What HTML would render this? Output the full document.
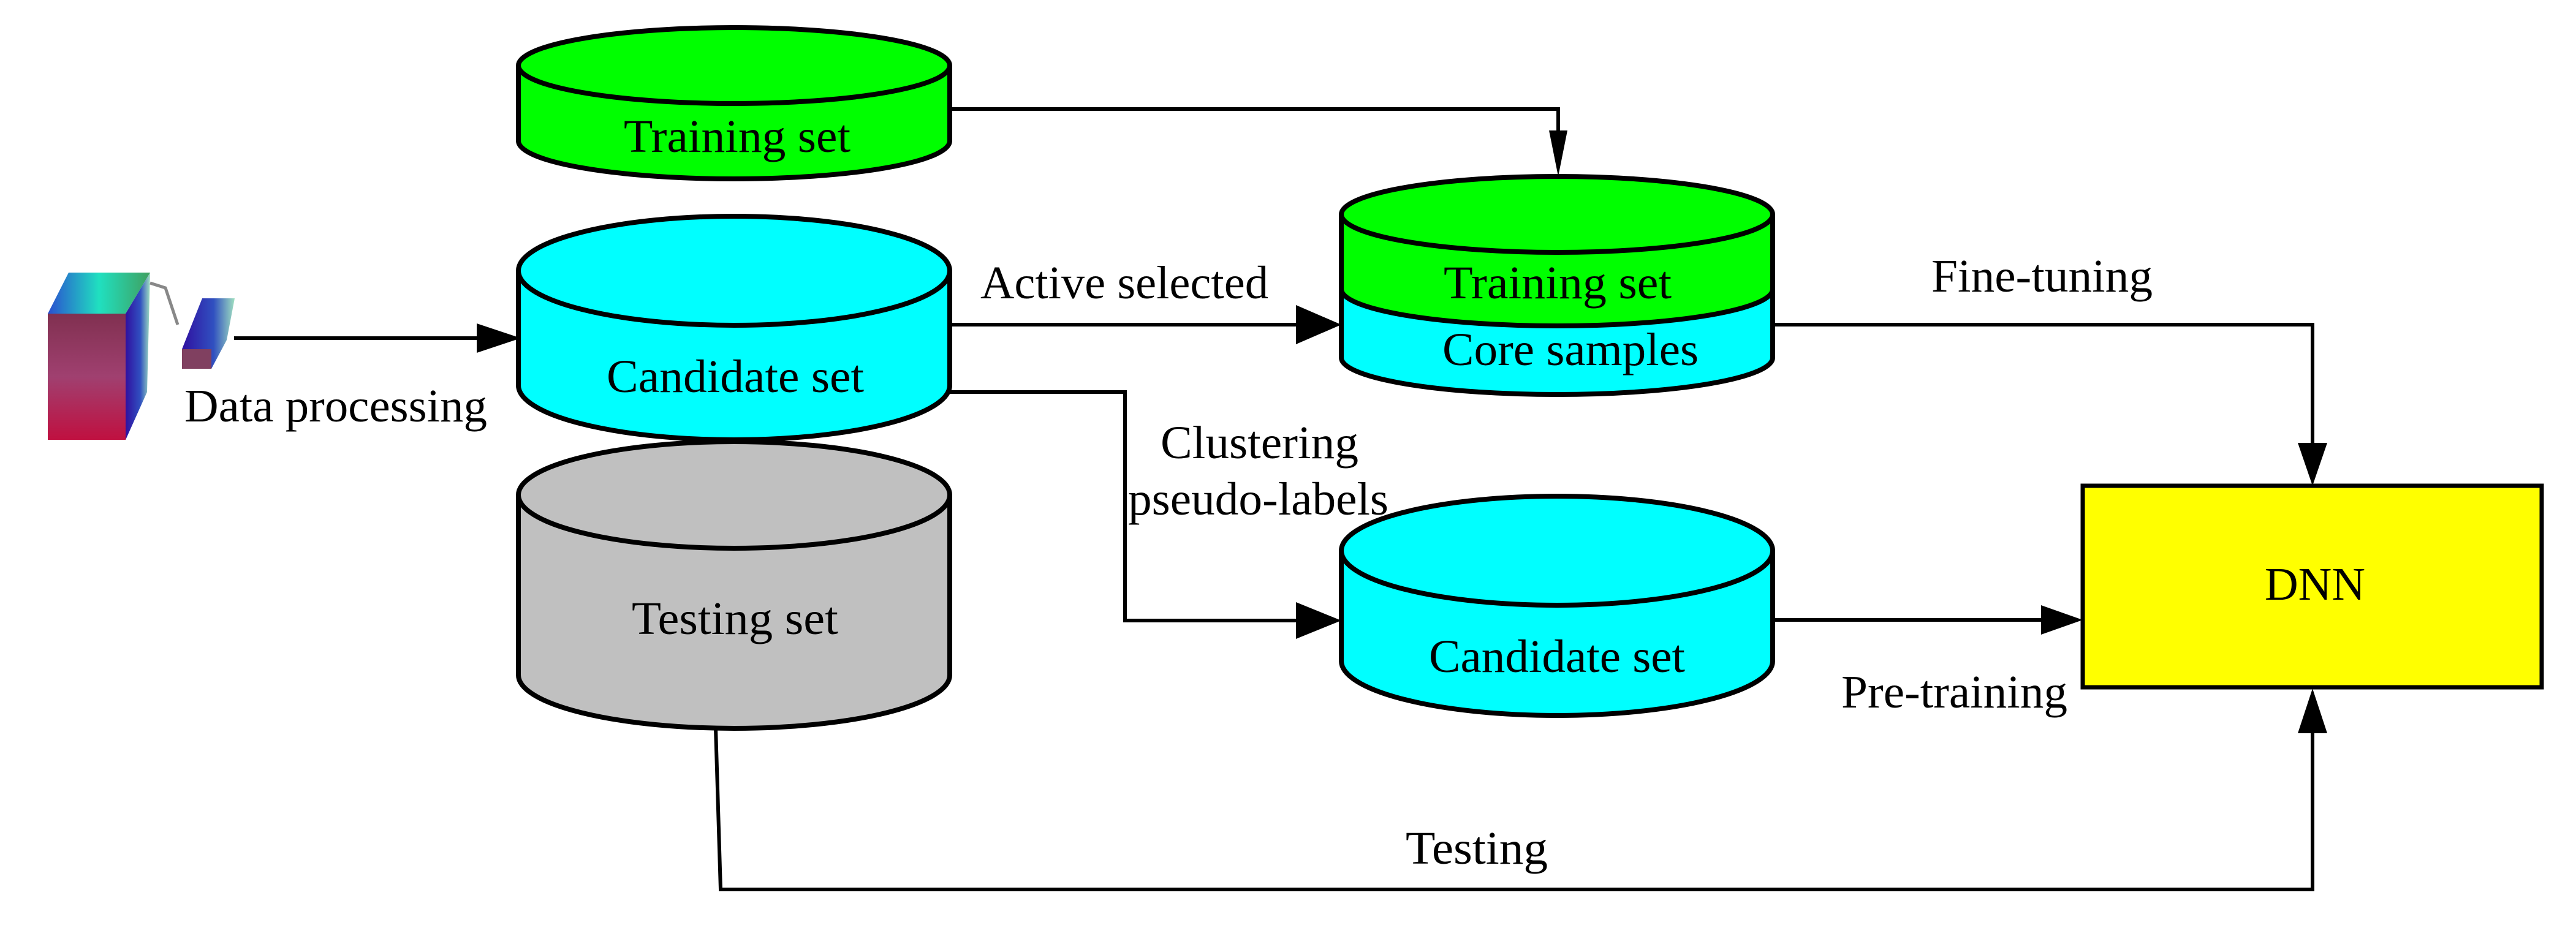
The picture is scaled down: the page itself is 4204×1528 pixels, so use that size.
<!DOCTYPE html>
<html><head><meta charset="utf-8"><style>html,body{margin:0;padding:0;background:#fff}svg{display:block}</style></head><body>
<svg width="4204" height="1528" viewBox="0 0 4204 1528" xmlns="http://www.w3.org/2000/svg" font-family="Liberation Serif, serif" font-size="76">
<defs>
<linearGradient id="top" x1="0" y1="0" x2="1" y2="0"><stop offset="0" stop-color="#2a4fd0"/><stop offset="0.5" stop-color="#20e0c0"/><stop offset="1" stop-color="#40a060"/></linearGradient>
<linearGradient id="side" x1="0" y1="0" x2="1" y2="0"><stop offset="0" stop-color="#3010a0"/><stop offset="0.6" stop-color="#3050c0"/><stop offset="1" stop-color="#a0e0c0"/></linearGradient>
<linearGradient id="front" x1="0" y1="0" x2="0" y2="1"><stop offset="0" stop-color="#803050"/><stop offset="0.5" stop-color="#a04070"/><stop offset="1" stop-color="#c01040"/></linearGradient>
</defs>
<!-- icon -->
<polygon points="78,512 112,445 245,445 205,512" fill="url(#top)"/>
<polygon points="205,512 245,445 240,640 205,718" fill="url(#side)"/>
<rect x="78" y="512" width="127" height="206" fill="url(#front)"/>
<polyline points="245,462 270,470 290,530" fill="none" stroke="#888" stroke-width="5"/>
<polygon points="297,570 330,487 383,487 370,555 345,602 297,602" fill="url(#side)"/>
<polygon points="297,570 345,570 345,602 297,602" fill="#804060"/>
<g stroke="#000" stroke-width="8" fill="none">
<!-- Training set top -->
<path d="M846,107 V230 A352,62 0 0 0 1550,230 V107" fill="#00ff00"/>
<ellipse cx="1198" cy="107" rx="352" ry="62" fill="#00ff00"/>
<!-- Candidate set left -->
<path d="M846,442 V629 A352,89 0 0 0 1550,629 V442" fill="#00ffff"/>
<ellipse cx="1198" cy="442" rx="352" ry="89" fill="#00ffff"/>
<!-- Testing set -->
<path d="M846,808 V1102 A352,87 0 0 0 1550,1102 V808" fill="#c0c0c0"/>
<ellipse cx="1198" cy="808" rx="352" ry="87" fill="#c0c0c0"/>
<!-- Core cylinder -->
<path d="M2189,472 V584 A352,60 0 0 0 2893,584 V472" fill="#00ffff"/>
<path d="M2189,350 V472 A352,60 0 0 0 2893,472 V350" fill="#00ff00"/>
<ellipse cx="2541" cy="350" rx="352" ry="62" fill="#00ff00"/>
<!-- Candidate set right -->
<path d="M2189,899 V1079 A352,89 0 0 0 2893,1079 V899" fill="#00ffff"/>
<ellipse cx="2541" cy="899" rx="352" ry="89" fill="#00ffff"/>
<!-- DNN -->
<rect x="3399" y="793" width="749" height="329" fill="#ffff00" stroke-width="7"/>
</g>
<g stroke="#000" stroke-width="6" fill="none">
<line x1="382" y1="552" x2="790" y2="552"/>
<polyline points="1550,178 2543,178 2543,220"/>
<line x1="1550" y1="530" x2="2130" y2="530"/>
<polyline points="1550,640 1836,640 1836,1013 2130,1013"/>
<polyline points="2893,530 3774,530 3774,730"/>
<line x1="2893" y1="1012" x2="3335" y2="1012"/>
<polyline points="1168,1189 1176,1452 3774,1452 3774,1190"/>
</g>
<g fill="#000">
<polygon points="778,528 850,552 778,576"/>
<polygon points="2528,213 2558,213 2543,288"/>
<polygon points="2115,498 2189,530 2115,562"/>
<polygon points="2115,983 2189,1013 2115,1043"/>
<polygon points="3750,723 3798,723 3774,793"/>
<polygon points="3331,988 3399,1012 3331,1036"/>
<polygon points="3750,1197 3798,1197 3774,1124"/>
</g>
<g fill="#000" lengthAdjust="spacingAndGlyphs">
<text x="1018" y="248" textLength="370" lengthAdjust="spacingAndGlyphs">Training set</text>
<text x="990" y="640" textLength="420" lengthAdjust="spacingAndGlyphs">Candidate set</text>
<text x="1031" y="1035" textLength="337" lengthAdjust="spacingAndGlyphs">Testing set</text>
<text x="2356" y="487" textLength="372" lengthAdjust="spacingAndGlyphs">Training set</text>
<text x="2354" y="596" textLength="418" lengthAdjust="spacingAndGlyphs">Core samples</text>
<text x="2332" y="1097" textLength="418" lengthAdjust="spacingAndGlyphs">Candidate set</text>
<text x="1600" y="487" textLength="470" lengthAdjust="spacingAndGlyphs">Active selected</text>
<text x="301" y="688" textLength="494" lengthAdjust="spacingAndGlyphs">Data processing</text>
<text x="1894" y="748" textLength="323" lengthAdjust="spacingAndGlyphs">Clustering</text>
<text x="1841" y="840" textLength="425" lengthAdjust="spacingAndGlyphs">pseudo-labels</text>
<text x="2294" y="1410" textLength="232" lengthAdjust="spacingAndGlyphs">Testing</text>
<text x="3152" y="476" textLength="361" lengthAdjust="spacingAndGlyphs">Fine-tuning</text>
<text x="3005" y="1155" textLength="369" lengthAdjust="spacingAndGlyphs">Pre-training</text>
<text x="3696" y="979" textLength="164" lengthAdjust="spacingAndGlyphs">DNN</text>
</g>
</svg>
</body></html>
